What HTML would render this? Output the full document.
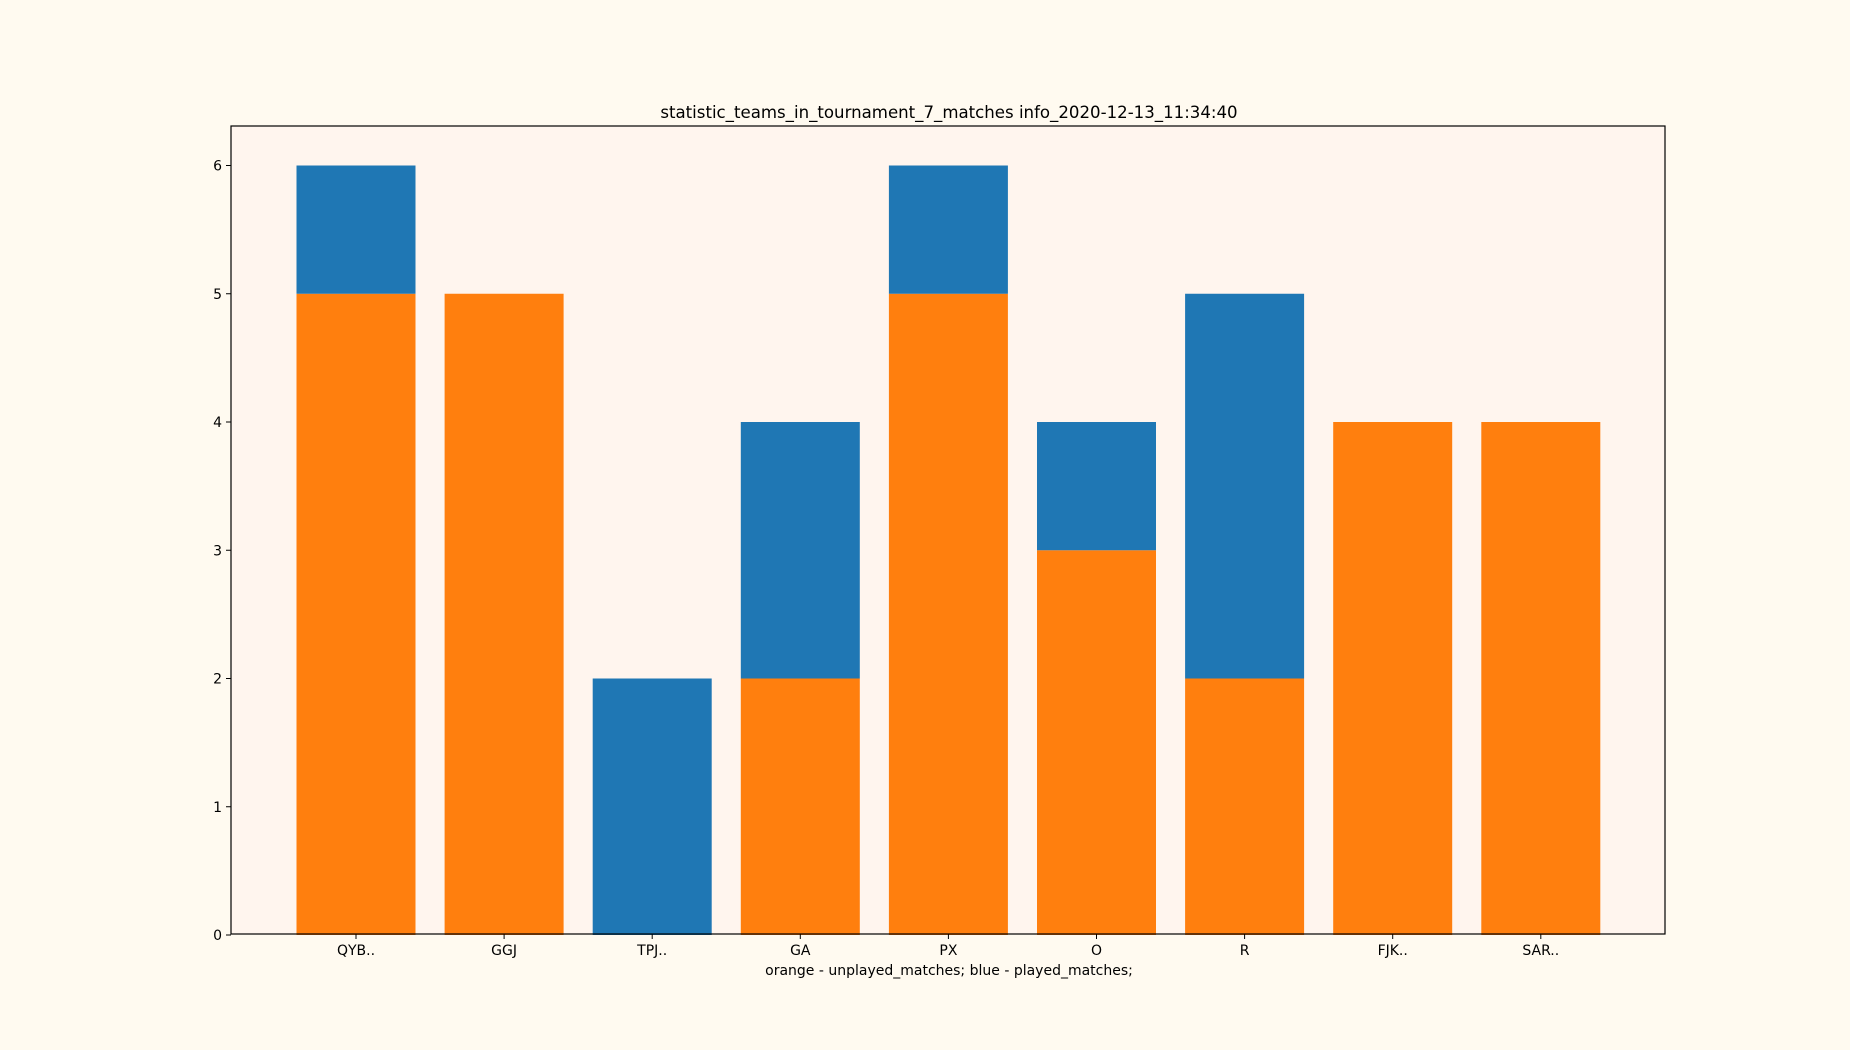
<!DOCTYPE html>
<html><head><meta charset="utf-8"><style>
body{margin:0;background:#fffaf0;}
svg{display:block;font-family:"DejaVu Sans","Liberation Sans",sans-serif;}
</style></head><body>
<svg id="chart" width="1850" height="1050">
<rect width="1850" height="1050" fill="#fffaf0"/>
<rect x="231" y="126" width="1434" height="808" fill="#fff5ee"/>
<g id="bars"></g>
<rect x="231" y="126" width="1434" height="808" fill="none" stroke="#000" stroke-width="1.2"/>
<g id="ticks"></g>
<text x="949" y="118" text-anchor="middle" font-size="16.6">statistic_teams_in_tournament_7_matches info_2020-12-13_11:34:40</text>
<text x="949" y="975" text-anchor="middle" font-size="14">orange - unplayed_matches; blue - played_matches;</text>
</svg>
<script>
const categories=["QYB..","GGJ","TPJ..","GA","PX","O","R","FJK..","SAR.."];
const unplayed=[5,5,0,2,5,3,2,4,4];
const played=[1,0,2,2,1,1,3,0,0];
const yTicks=[0,1,2,3,4,5,6];
const NS="http://www.w3.org/2000/svg";
const x0=356,step=148.1,bw=119;
const y=v=>935-v*128.25;
const x=i=>x0+i*step;
const bars=document.getElementById('bars'),ticks=document.getElementById('ticks');
function mk(tag,attrs,parent){const e=document.createElementNS(NS,tag);for(const k in attrs)e.setAttribute(k,attrs[k]);parent.appendChild(e);return e;}
categories.forEach((c,i)=>{
  const o=mk('rect',{x:x(i)-bw/2,y:y(unplayed[i]),width:bw,height:y(0)-y(unplayed[i]),fill:'#ff7f0e'},bars);
  
  
  const b=mk('rect',{x:x(i)-bw/2,y:y(unplayed[i]+played[i]),width:bw,height:y(unplayed[i])-y(unplayed[i]+played[i]),fill:'#1f77b4'},bars);
  
  
  const t=mk('line',{x1:x(i),x2:x(i),y1:934,y2:939,stroke:'#000'},ticks);
  
  
  const l=mk('text',{x:x(i),y:955,'text-anchor':'middle','font-size':'14'},ticks);
  l.textContent=c;
  
  
});
yTicks.forEach(v=>{
  const t=mk('line',{x1:226,x2:231,y1:y(v),y2:y(v),stroke:'#000'},ticks);
  
  
  const l=mk('text',{x:222,y:y(v)+5,'text-anchor':'end','font-size':'14'},ticks);
  l.textContent=v;
  
  
});
</script>
</body></html>
